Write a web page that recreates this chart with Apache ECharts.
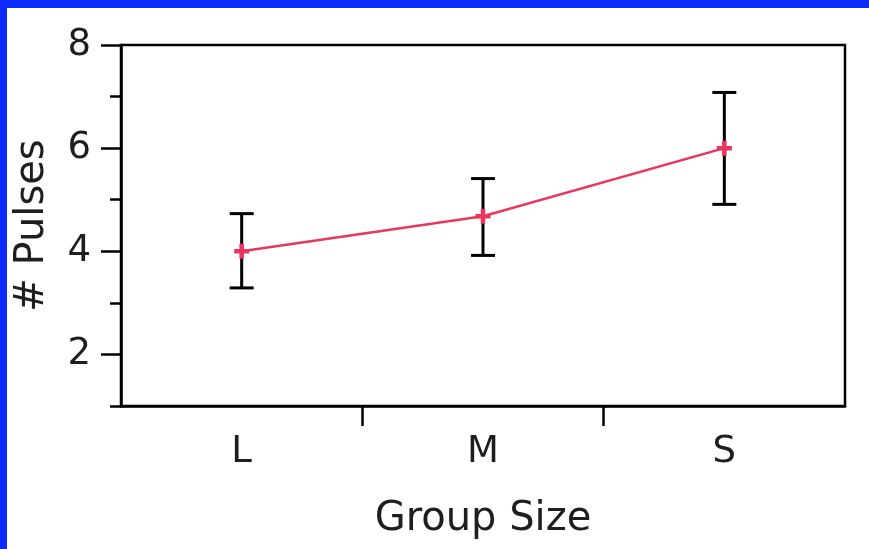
<!DOCTYPE html>
<html>
<head>
<meta charset="utf-8">
<script src="https://cdn.jsdelivr.net/npm/echarts@6/dist/echarts.min.js"></script>
<style>
  html, body { margin: 0; padding: 0; background: #ffffff; }
  #chart { width: 869px; height: 549px; }
</style>
</head>
<body>
<div id="chart"></div>
<script>
// Mean number of pulses by group size, with error bars
const groupSizes = ['L', 'M', 'S'];
const meanPulses = [4.0, 4.68, 6.0];
const errLower = [3.29, 3.92, 4.91];
const errUpper = [4.73, 5.41, 7.08];
const yLabelValues = [2, 4, 6, 8];
const yMinorValues = [1, 3, 5, 7];
const xDividers = [1, 2];

const FONT = 'DejaVu Sans';
const INK = '#1e1e1e';
const LINE_RED = '#e8365d';

const chart = echarts.init(document.getElementById('chart'), null, { renderer: 'canvas' });

const errorData = groupSizes.map((g, i) => [i, errLower[i], errUpper[i]]);

chart.setOption({
  animation: false,
  backgroundColor: '#ffffff',
  graphic: [
    { type: 'rect', left: 0, top: 0, shape: { width: 869, height: 8 }, style: { fill: '#0c2cff' }, z: 100 },
    { type: 'rect', left: 0, top: 0, shape: { width: 7, height: 549 }, style: { fill: '#0c2cff' }, z: 100 }
  ],
  grid: {
    left: 121, right: 24, top: 45, bottom: 143,
    show: true, borderColor: '#000', borderWidth: 2.5, backgroundColor: 'transparent'
  },
  xAxis: [
    {
      type: 'category',
      data: groupSizes,
      boundaryGap: true,
      name: 'Group Size',
      nameLocation: 'middle',
      nameGap: 94,
      nameTextStyle: { fontFamily: FONT, fontSize: 40, color: INK },
      axisLine: { show: true, lineStyle: { color: '#000', width: 2.5 } },
      axisTick: { show: false },
      axisLabel: { fontFamily: FONT, fontSize: 37, color: INK, margin: 28 },
      splitLine: { show: false }
    },
    {
      type: 'value',
      min: 0, max: 3, interval: 1,
      position: 'bottom',
      axisLine: { show: false },
      axisTick: { show: true, length: 20, lineStyle: { color: '#000', width: 2.5 }, customValues: xDividers },
      axisLabel: { show: false },
      splitLine: { show: false }
    }
  ],
  yAxis: [
    {
      type: 'value',
      min: 1, max: 8, interval: 1,
      name: '# Pulses',
      nameLocation: 'middle',
      nameGap: 68,
      nameRotate: 90,
      nameTextStyle: { fontFamily: FONT, fontSize: 40, color: INK },
      axisLine: { show: true, lineStyle: { color: '#000', width: 2.5 } },
      axisTick: { show: true, length: 20, lineStyle: { color: '#000', width: 2.5 }, customValues: yLabelValues },
      axisLabel: { fontFamily: FONT, fontSize: 37, color: INK, margin: 30, customValues: yLabelValues },
      splitLine: { show: false }
    },
    {
      type: 'value',
      min: 1, max: 8, interval: 1,
      position: 'left',
      axisLine: { show: false },
      axisTick: { show: true, length: 11, lineStyle: { color: '#000', width: 2.5 }, customValues: yMinorValues },
      axisLabel: { show: false },
      splitLine: { show: false }
    }
  ],
  series: [
    {
      type: 'custom',
      xAxisIndex: 0,
      yAxisIndex: 0,
      z: 1,
      data: errorData,
      renderItem: function (params, api) {
        const x = api.value(0);
        const lo = api.coord([x, api.value(1)]);
        const hi = api.coord([x, api.value(2)]);
        const half = 12;
        const style = { stroke: '#000', lineWidth: 3 };
        return {
          type: 'group',
          children: [
            { type: 'line', shape: { x1: lo[0], y1: lo[1], x2: hi[0], y2: hi[1] }, style: style },
            { type: 'line', shape: { x1: hi[0] - half, y1: hi[1], x2: hi[0] + half, y2: hi[1] }, style: style },
            { type: 'line', shape: { x1: lo[0] - half, y1: lo[1], x2: lo[0] + half, y2: lo[1] }, style: style }
          ]
        };
      }
    },
    {
      type: 'line',
      xAxisIndex: 0,
      yAxisIndex: 0,
      z: 3,
      data: meanPulses,
      lineStyle: { color: LINE_RED, width: 2.5 },
      itemStyle: { color: LINE_RED },
      symbol: 'path://M3.5,0H6.5V3.5H10V6.5H6.5V10H3.5V6.5H0V3.5H3.5Z',
      symbolSize: 15,
      showSymbol: true
    }
  ]
});
</script>
</body>
</html>
